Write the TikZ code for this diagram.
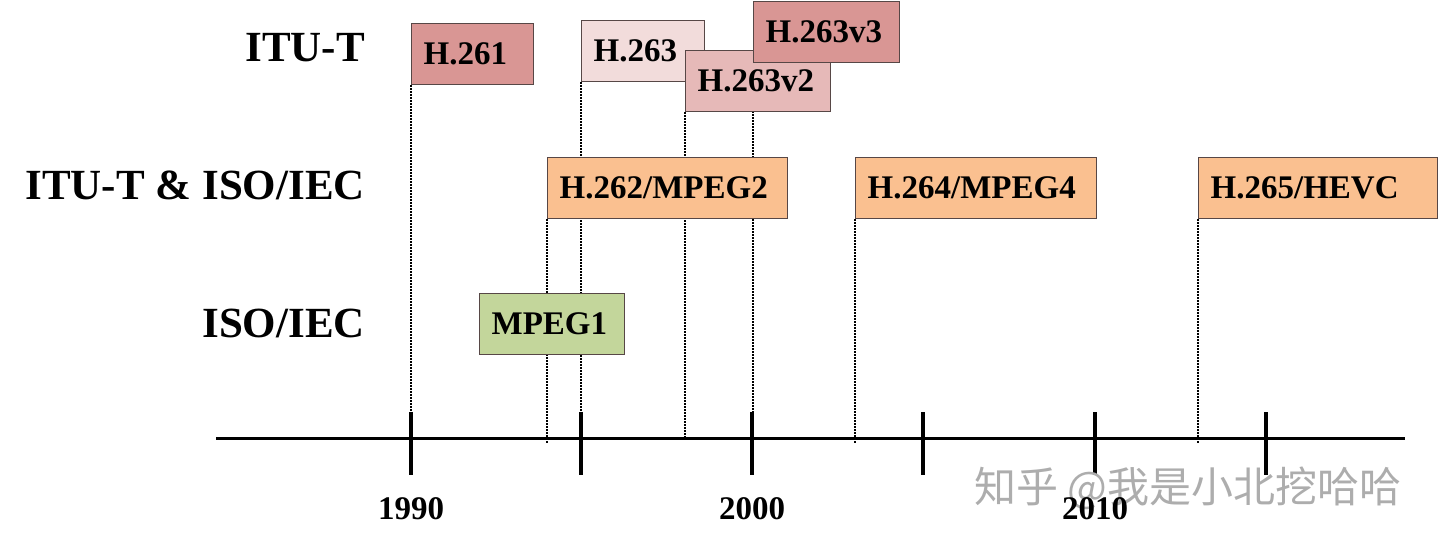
\documentclass[tikz,border=0pt]{standalone}
\usepackage{fontspec}
\setmainfont{Liberation Serif}
\newfontfamily\cjk{Noto Sans CJK SC}
\usetikzlibrary{backgrounds}
\definecolor{redbox}{HTML}{D99694}
\definecolor{palebox}{HTML}{F2DCDB}
\definecolor{pinkbox}{HTML}{E6B9B8}
\definecolor{orangebox}{HTML}{FAC090}
\definecolor{greenbox}{HTML}{C3D69B}
\definecolor{boxline}{HTML}{574746}

\begin{document}
\begin{tikzpicture}[x=1pt,y=-1pt,
    std/.style={draw=boxline,line width=1.3pt,anchor=north west,minimum height=61pt,
        inner xsep=12pt,inner ysep=0pt,align=left,font=\fontsize{33}{33}\selectfont\bfseries},
    row/.style={anchor=base east,inner sep=0pt,font=\fontsize{43}{43}\selectfont\bfseries},
    year/.style={anchor=base,inner sep=0pt,font=\fontsize{33}{33}\selectfont\bfseries},
    guide/.style={line width=1.3pt,dash pattern=on 1.4pt off 1.6pt},
    wmark/.style={text=black!32,font=\fontsize{42}{42}\cjk}]
    \useasboundingbox (0,0) rectangle (1440,545);

    % row titles
    \node[row] (itut) at (365,62) {ITU-T};
    \node[row] (joint) at (365,200) {ITU-T \& ISO/IEC};
    \node[row] (isoiec) at (365,337) {ISO/IEC};

    % standards
    \node[std,fill=redbox,text width=98pt] (h261) at (411,23) {H.261};
    \node[std,fill=palebox,text width=99pt] (h263) at (581,20) {H.263};
    \node[std,fill=pinkbox,text width=121pt] (h263v2) at (685,50) {H.263v2};
    \node[std,fill=redbox,text width=122pt] (h263v3) at (753,1) {H.263v3};
    \node[std,fill=orangebox,text width=216pt] (h262) at (547,157) {H.262/MPEG2};
    \node[std,fill=orangebox,text width=217pt] (h264) at (855,157) {H.264/MPEG4};
    \node[std,fill=orangebox,text width=215pt] (h265) at (1198,157) {H.265/HEVC};
    \node[std,fill=greenbox,text width=121pt] (mpeg1) at (479,293) {MPEG1};

    % time axis
    \coordinate (axis) at (0,438);
    \coordinate (guideend) at (0,443);
    \draw[line width=3pt] (216,438) -- (1405,438);
    \draw[line width=4pt] (411,412) -- (411,475);
    \draw[line width=4pt] (581,412) -- (581,475);
    \draw[line width=4pt] (752,412) -- (752,475);
    \draw[line width=4pt] (923,412) -- (923,475);
    \draw[line width=4pt] (1095,412) -- (1095,475);
    \draw[line width=4pt] (1266,412) -- (1266,475);

    \node[wmark] (zhihu) at (1188,488) {知乎 @我是小北挖哈哈};

    \node[year] (y1990) at (411,519) {1990};
    \node[year] (y2000) at (752,519) {2000};
    \node[year] (y2010) at (1095,519) {2010};

    % dotted guides down to the axis
    \begin{scope}[on background layer]
        \draw[guide] (h261.south west) -- (h261.south west |- axis);
        \draw[guide] (h263.south west) -- (h263.south west |- axis);
        \draw[guide] (h263v2.south west) -- (h263v2.south west |- axis);
        \draw[guide] (h263v3.south west) -- (h263v3.south west |- axis);
        \draw[guide] (h262.south west) -- (h262.south west |- guideend);
        \draw[guide] (h264.south west) -- (h264.south west |- guideend);
        \draw[guide] (h265.south west) -- (h265.south west |- guideend);
    \end{scope}
\end{tikzpicture}
\end{document}
